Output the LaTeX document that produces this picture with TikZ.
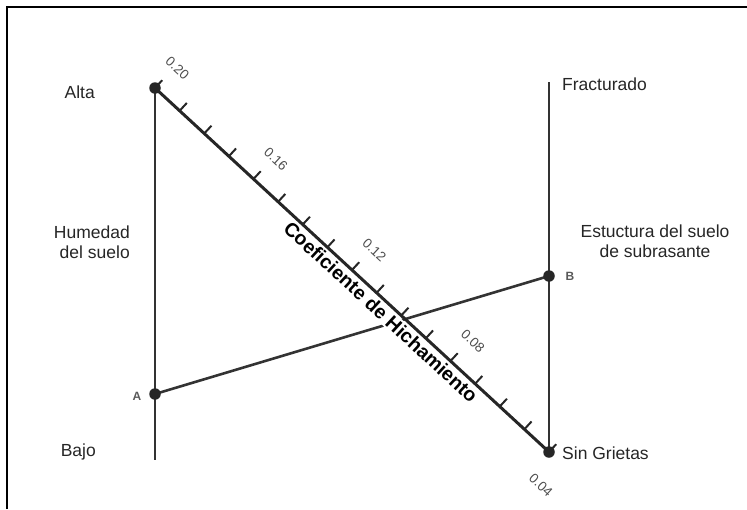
\documentclass[tikz,border=0pt]{standalone}
\usepackage{fontspec}
\setmainfont{Liberation Sans}
\usetikzlibrary{calc}

\tikzset{
    axisline/.style={draw=black!80, line width=2.6pt},
    dotmark/.style={circle, fill=black!85, inner sep=0pt, minimum size=11.5pt},
    axislabel/.style={inner sep=0pt, text=black!85, font=\fontsize{17.5}{20}\selectfont},
    scalenum/.style={inner sep=0pt, text=black!70, rotate=-42.7, font=\fontsize{13.5}{15}\selectfont},
    ptname/.style={inner sep=0pt, text=black!65, font=\bfseries\fontsize{12}{14}\selectfont},
    coeftext/.style={inner sep=1.5pt, fill=white, rotate=-42.7, font=\bfseries\fontsize{19.5}{21}\selectfont}
}

\begin{document}
\begin{tikzpicture}[x=1pt,y=-1pt]
    \useasboundingbox (0,0) rectangle (747,509);
    \draw[line width=2.2pt] (7,509) -- (7,7) -- (747,7);

    \coordinate (alta) at (155,88);
    \coordinate (bajo) at (155,460);
    \coordinate (ptA) at (155,394);
    \coordinate (frac) at (549,82);
    \coordinate (ptB) at (549,276);
    \coordinate (sin) at (549,452);

    \draw[axisline] (alta) -- (bajo);
    \draw[axisline] (frac) -- (sin);
    \draw[axisline] (ptA) -- (ptB);

    % nomograph scale
    \node[coeftext] (coef) at (381,312) {Coeficiente de Hichamiento};
    \draw[black!85, line width=3pt] (alta) -- (sin);
    \foreach \i in {0,...,16} {
        \draw[black!85, line width=2pt] ($(alta)!\i/16!(sin)$) -- ++(7.2,-7.8);
    }
    \foreach \i/\v in {0/0.20,4/0.16,8/0.12,12/0.08} {
        \path ($(alta)!\i/16!(sin)$) ++(22.5,-19.8) node[scalenum] (num\i) {\v};
    }
    \node[scalenum] (num16) at (541,485) {0.04};

    \node[dotmark] (dalta) at (alta) {};
    \node[dotmark] (dA) at (ptA) {};
    \node[dotmark] (dB) at (ptB) {};
    \node[dotmark] (dsin) at (sin) {};
    \node[ptname] (lblA) at (137,396) {A};
    \node[ptname] (lblB) at (570,276) {B};

    \node[axislabel, anchor=east] (altalbl) at (95,92) {Alta};
    \node[axislabel, anchor=east, align=right] (humlbl) at (130,242) {Humedad\\del suelo};
    \node[axislabel, anchor=base east] (bajolbl) at (96,456) {Bajo};
    \node[axislabel, anchor=west] (fraclbl) at (562,84) {Fracturado};
    \node[axislabel, align=center] (estlbl) at (655,241) {Estuctura del suelo\\de subrasante};
    \node[axislabel, anchor=west] (sinlbl) at (562,453) {Sin Grietas};
\end{tikzpicture}
\end{document}
